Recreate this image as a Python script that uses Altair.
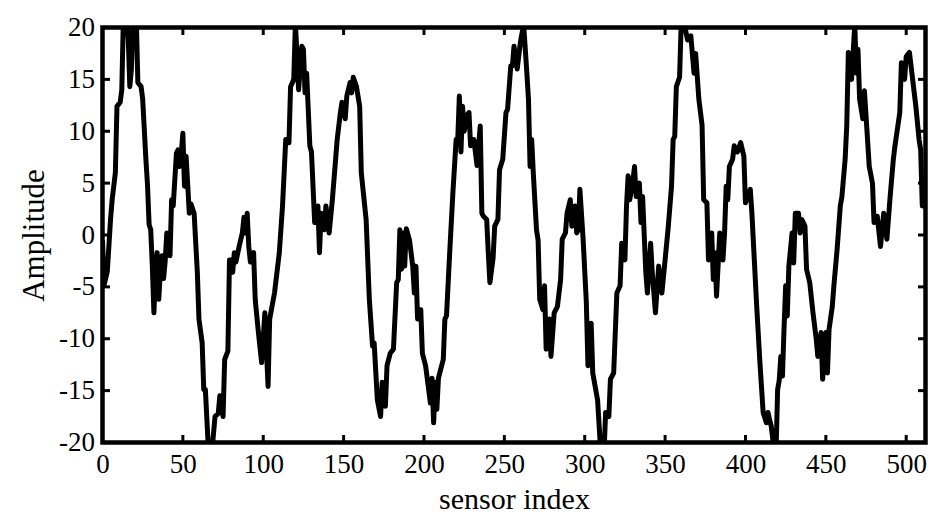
import altair as alt
import pandas as pd

idx = [
    0, 1, 3, 5, 6, 8, 9, 11, 12, 13,
    15, 16, 17, 18, 19, 21, 22, 24, 25, 27,
    28, 29, 30, 31, 32, 33, 34, 35, 36, 37,
    38, 39, 40, 41, 42, 43, 44, 46, 47, 48,
    49, 50, 51, 52, 54, 55, 57, 59, 60, 62,
    63, 64, 66, 68, 70, 72, 73, 75, 76, 78,
    79, 80, 81, 82, 83, 85, 87, 88, 89, 90,
    91, 92, 94, 95, 97, 99, 101, 103, 104, 107,
    110, 112, 114, 116, 117, 119, 120, 122, 124, 125,
    126, 127, 129, 130, 132, 134, 135, 136, 138, 139,
    141, 143, 146, 148, 149, 151, 152, 154, 155, 156,
    158, 160, 161, 164, 166, 168, 169, 171, 173, 174,
    175, 176, 177, 179, 181, 183, 184, 185, 186, 187,
    188, 189, 191, 193, 194, 195, 196, 198, 199, 201,
    202, 204, 205, 206, 207, 208, 209, 211, 212, 213,
    214, 216, 218, 220, 221, 222, 223, 224, 225, 227,
    228, 229, 231, 233, 235, 236, 237, 239, 240, 241,
    243, 244, 246, 247, 249, 251, 252, 254, 255, 256,
    258, 260, 262, 264, 265, 266, 267, 268, 270, 271,
    272, 274, 275, 276, 278, 279, 281, 283, 285, 286,
    288, 289, 291, 292, 294, 295, 296, 297, 299, 301,
    302, 304, 305, 308, 310, 312, 313, 315, 316, 318,
    320, 322, 323, 325, 326, 327, 328, 330, 331, 332,
    334, 335, 336, 338, 339, 341, 342, 344, 346, 348,
    350, 352, 354, 355, 356, 357, 359, 360, 362, 364,
    366, 368, 369, 371, 373, 374, 376, 377, 379, 380,
    381, 382, 384, 386, 387, 388, 389, 390, 392, 393,
    395, 397, 399, 400, 403, 404, 407, 409, 411, 413,
    414, 415, 416, 418, 419, 420, 421, 422, 423, 424,
    425, 426, 427, 429, 430, 431, 433, 434, 435, 437,
    438, 440, 442, 444, 445, 447, 448, 450, 451, 452,
    454, 455, 457, 459, 460, 462, 463, 464, 466, 467,
    468, 469, 470, 471, 473, 474, 475, 477, 479, 480,
    482, 484, 486, 488, 490, 492, 493, 496, 497, 499,
    500, 502, 503, 505, 506, 508, 509, 510, 511,
]

amp = [
    -0.5, -4.8, -3.5, 1.5, 3.4, 6.0, 12.4, 12.8, 14.0, 21,
    20.5, 19, 14.3, 16, 21, 21, 14.7, 14.3, 13.1, 7.3,
    4.8, 1.0, 0.5, -3, -7.5, -3, -1.7, -6.2, -3.5, -2.0,
    -4.2, -2.5, 0.2, -1.0, -2.0, 3.4, 2.8, 7.9, 8.2, 6.6,
    7.9, 9.8, 4.7, 7.6, 2.1, 3.0, 2.1, -3.6, -8.1, -10.4,
    -14.9, -14.9, -21, -21, -17.5, -17.2, -15.5, -17.5, -12, -11.2,
    -2.4, -2.4, -3.6, -1.7, -2.6, -1.1, 0.2, 1.7, 0.2, 2.1,
    -1.1, -2.6, -1.7, -6.2, -9.4, -12.3, -7.5, -14.6, -8.1, -5.6,
    -1.7, 2.8, 9.2, 8.9, 14.3, 15.0, 20.5, 14.0, 18.2, 17.9,
    13.7, 15.6, 8.6, 8.0, 1.2, 2.8, -1.7, 2.1, 0.5, 2.8,
    0.2, 3.4, 9.2, 11.8, 12.8, 11.2, 13.4, 14.7, 13.7, 15.2,
    14.3, 12.4, 6.0, 1.5, -6.2, -10.7, -10.4, -15.9, -17.5, -14.2,
    -15.1, -16.5, -12.6, -11.4, -11.0, -4.6, -4.3, 0.5, -3.3, 0.2,
    -3.0, 0.6, -0.5, -3.0, -5.6, -3.0, -8.1, -7.2, -11.4, -12.6,
    -13.8, -16.2, -13.8, -18.1, -14.2, -16.8, -13.8, -12.6, -12.0, -8.1,
    -7.8, -1.7, 4.1, 9.2, 9.2, 13.4, 8.0, 12.4, 10.0, 11.6,
    11.8, 8.6, 9.2, 6.7, 10.5, 2.1, 1.8, 1.5, -1.7, -4.6,
    -2.2, 0.85, 1.5, 6.3, 7.3, 11.8, 12.1, 16.3, 16.3, 18.2,
    16.0, 18.6, 20.3, 15.6, 13.1, 6.6, 9.2, 6.0, 0.5, -0.5,
    -6.2, -7.2, -4.9, -11.0, -8.1, -11.7, -7.5, -6.9, -4.3, -0.4,
    0.2, 2.1, 3.4, 0.85, 2.8, 0.2, 0.5, 4.4, -0.4, -6.5,
    -12.6, -8.5, -13.3, -15.9, -21, -21, -17.1, -17.5, -13.9, -13.3,
    -5.6, -4.9, -0.8, -2.4, 2.8, 5.7, 3.4, 5.3, 6.6, 3.7,
    5.0, 1.2, 3.7, -3.6, -5.6, -0.8, -3.6, -7.5, -3.0, -5.6,
    -2.4, 0.85, 4.7, 9.2, 9.5, 14.3, 15.2, 20.3, 20.3, 18.8,
    19.2, 15.6, 17.5, 13.1, 10.6, 3.4, 3.1, -2.4, 0.2, -4.3,
    -1.7, -5.9, 0.2, -2.4, 0.2, 4.7, 3.4, 6.6, 7.3, 8.6,
    8.0, 8.9, 7.6, 3.1, 4.4, 2.1, -6.9, -12.3, -17.1, -18.1,
    -17.1, -17.8, -18.4, -21, -21, -14.9, -14.0, -11.7, -13.6, -9.0,
    -4.9, -7.8, -3.0, 0.2, -2.7, 2.1, 2.1, 0.2, 1.5, 0.85,
    -3.3, -4.6, -7.5, -10.0, -11.7, -9.4, -13.9, -9.4, -13.3, -9.1,
    -6.9, -4.9, -1.4, 2.8, 3.7, 7.3, 10.5, 17.6, 15.0, 17.6,
    20.3, 15.6, 17.9, 13.1, 11.2, 13.9, 11.5, 6.6, 5.0, 1.2,
    1.8, -1.1, 2.1, -0.4, 3.7, 7.3, 8.6, 11.8, 16.6, 15.0,
    17.2, 17.6, 16.3, 13.7, 12.4, 9.2, 8.2, 2.8, 3.4,
]

x_ticks = [0, 50, 100, 150, 200, 250, 300, 350, 400, 450, 500]
y_ticks = [-20, -15, -10, -5, 0, 5, 10, 15, 20]

W, H = 823, 415
TL = 7.5
FONT = "Liberation Serif"

df = pd.DataFrame({"idx": idx, "amp": amp})
dx = pd.DataFrame({"idx": x_ticks})
dy = pd.DataFrame({"amp": y_ticks})

xs = alt.Scale(domain=[0, 512], nice=False, zero=False)
ys = alt.Scale(domain=[-20, 20], nice=False, zero=False)

x_axis = alt.Axis(
    title="sensor index", values=x_ticks, ticks=False, domain=False, grid=False,
    labelFont=FONT, labelFontSize=27, labelColor="black", labelPadding=9,
    labelFlush=False, labelOverlap=False, labelExpr="'' + datum.value",
    titleFont=FONT, titleFontSize=30, titleFontWeight="normal", titleColor="black",
    titlePadding=7)
y_axis = alt.Axis(
    title="Amplitude", values=y_ticks, ticks=False, domain=False, grid=False,
    labelFont=FONT, labelFontSize=27, labelColor="black", labelPadding=8,
    labelFlush=False, labelOverlap=False, labelExpr="'' + datum.value",
    titleFont=FONT, titleFontSize=31, titleFontWeight="normal", titleColor="black",
    titlePadding=8)

line = alt.Chart(df).mark_line(
    color="black", strokeWidth=5, clip=True, strokeJoin="round"
).encode(
    x=alt.X("idx:Q", scale=xs, axis=x_axis),
    y=alt.Y("amp:Q", scale=ys, axis=y_axis),
)

top_ticks = alt.Chart(dx).mark_rule(color="black", strokeWidth=3).encode(
    x=alt.X("idx:Q", scale=xs, axis=x_axis), y=alt.value(0), y2=alt.value(TL))
bot_ticks = alt.Chart(dx).mark_rule(color="black", strokeWidth=3).encode(
    x=alt.X("idx:Q", scale=xs, axis=x_axis), y=alt.value(H - TL), y2=alt.value(H))
left_ticks = alt.Chart(dy).mark_rule(color="black", strokeWidth=3).encode(
    y=alt.Y("amp:Q", scale=ys, axis=y_axis), x=alt.value(0), x2=alt.value(TL))
right_ticks = alt.Chart(dy).mark_rule(color="black", strokeWidth=3).encode(
    y=alt.Y("amp:Q", scale=ys, axis=y_axis), x=alt.value(W - TL), x2=alt.value(W))

chart = alt.layer(line, top_ticks, bot_ticks, left_ticks, right_ticks).properties(
    width=W, height=H,
    autosize=alt.AutoSizeParams(type="none"),
    padding={"left": 94.5, "top": 19.5, "right": 10, "bottom": 78},
    background="white",
).configure_view(stroke="black", strokeWidth=4.5)

chart.save("out.html", embed_options={"renderer": "svg", "actions": False})
